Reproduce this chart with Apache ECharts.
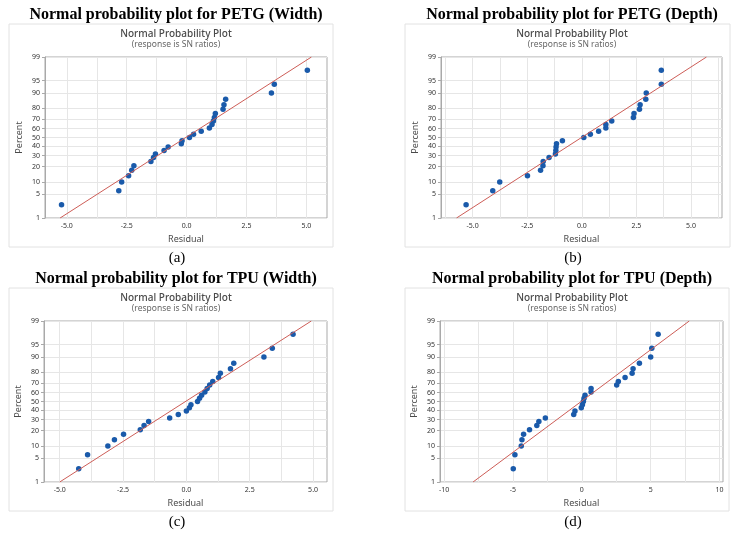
<!DOCTYPE html>
<html>
<head>
<meta charset="utf-8">
<title>Normal probability plots</title>
<script src="https://cdn.jsdelivr.net/npm/echarts@6/dist/echarts.min.js"></script>
<style>
  html, body { margin: 0; padding: 0; background: #fff; }
  #main { width: 747px; height: 536px; }
</style>
</head>
<body>
<div id="main"></div>
<script>
// percent (plotting position) of each of the 27 ranked residuals
var percents = [2.6, 6.2, 9.9, 13.5, 17.2, 20.8, 24.5, 28.1, 31.8, 35.4, 39.1, 42.7, 46.4, 50,
  53.6, 57.3, 60.9, 64.6, 68.2, 71.9, 75.5, 79.2, 82.8, 86.5, 90.1, 93.8, 97.4];

// residuals (sorted)
var petgWidth = [-5.22, -2.83, -2.71, -2.42, -2.29, -2.20, -1.49, -1.38, -1.30, -0.94, -0.77, -0.22, -0.19,
  0.12, 0.29, 0.61, 0.95, 1.06, 1.12, 1.16, 1.20, 1.52, 1.56, 1.63, 3.54, 3.66, 5.04];
var petgDepth = [-5.30, -4.08, -3.76, -2.49, -1.89, -1.78, -1.77, -1.50, -1.21, -1.19, -1.18, -1.16, -0.89,
  0.09, 0.39, 0.77, 1.10, 1.10, 1.37, 2.36, 2.39, 2.64, 2.67, 2.93, 2.95, 3.64, 3.64];
var tpuWidth = [-4.25, -3.90, -3.10, -2.84, -2.48, -1.82, -1.67, -1.49, -0.66, -0.32, 0.00, 0.12, 0.18,
  0.44, 0.52, 0.60, 0.73, 0.82, 0.92, 1.04, 1.27, 1.34, 1.74, 1.87, 3.06, 3.39, 4.21];
var tpuDepth = [-4.98, -4.86, -4.40, -4.35, -4.23, -3.80, -3.27, -3.12, -2.65, -0.59, -0.50, -0.04, 0.04,
  0.11, 0.16, 0.23, 0.67, 0.67, 2.53, 2.65, 3.14, 3.65, 3.72, 4.18, 5.00, 5.08, 5.54];

// fitted line: residual at 1 % and at 99 %
var fitPercents = [1, 99];
var fitPetgWidth = [-5.28, 5.21];
var fitPetgDepth = [-5.74, 5.71];
var fitTpuWidth = [-5.0, 4.93];
var fitTpuDepth = [-7.9, 7.8];

// axis ticks
var percentTicks = [1, 5, 10, 20, 30, 40, 50, 60, 70, 80, 90, 95, 99];
var residualTicks5 = [-5, -2.5, 0, 2.5, 5];
var residualTicks10 = [-10, -5, 0, 5, 10];

// inverse normal cdf (Acklam), used to put percents on the probability scale
function probit(p) {
  var a = [-3.969683028665376e+01, 2.209460984245205e+02, -2.759285104469687e+02,
    1.383577518672690e+02, -3.066479806614716e+01, 2.506628277459239e+00];
  var b = [-5.447609879822406e+01, 1.615858368580409e+02, -1.556989798598866e+02,
    6.680131188771972e+01, -1.328068155288572e+01];
  var c = [-7.784894002430293e-03, -3.223964580411365e-01, -2.400758277161838e+00,
    -2.549732539343734e+00, 4.374664141464968e+00, 2.938163982698783e+00];
  var d = [7.784695709041462e-03, 3.224671290700398e-01, 2.445134137142996e+00,
    3.754408661907416e+00];
  var q, r;
  if (p < 0.02425) {
    q = Math.sqrt(-2 * Math.log(p));
    return (((((c[0] * q + c[1]) * q + c[2]) * q + c[3]) * q + c[4]) * q + c[5]) /
      ((((d[0] * q + d[1]) * q + d[2]) * q + d[3]) * q + 1);
  }
  if (p > 1 - 0.02425) {
    q = Math.sqrt(-2 * Math.log(1 - p));
    return -(((((c[0] * q + c[1]) * q + c[2]) * q + c[3]) * q + c[4]) * q + c[5]) /
      ((((d[0] * q + d[1]) * q + d[2]) * q + d[3]) * q + 1);
  }
  q = p - 0.5;
  r = q * q;
  return (((((a[0] * r + a[1]) * r + a[2]) * r + a[3]) * r + a[4]) * r + a[5]) * q /
    (((((b[0] * r + b[1]) * r + b[2]) * r + b[3]) * r + b[4]) * r + 1);
}
function z(pct) { return probit(pct / 100); }

var zTicks = percentTicks.map(z);
function percentLabel(v) {
  var best = 0;
  for (var i = 1; i < zTicks.length; i++) {
    if (Math.abs(zTicks[i] - v) < Math.abs(zTicks[best] - v)) best = i;
  }
  return String(percentTicks[best]);
}

// panel layout
var panels = [
  { title: 'Normal probability plot for PETG (Width)', tag: '(a)', res: petgWidth, fit: fitPetgWidth,
    cx: 176, top: 0, box: [9, 24, 324, 223], grid: [45, 57, 282, 161], min: -5.91, max: 5.86,
    labels: residualTicks5, lines: [-5, -3.75, -2.5, -1.25, 0, 1.25, 2.5, 3.75, 5], dec: 1 },
  { title: 'Normal probability plot for PETG (Depth)', tag: '(b)', res: petgDepth, fit: fitPetgDepth,
    cx: 572, top: 0, box: [405, 24, 325, 223], grid: [441, 57, 281, 161], min: -6.45, max: 6.42,
    labels: residualTicks5, lines: [-6.25, -5, -3.75, -2.5, -1.25, 0, 1.25, 2.5, 3.75, 5, 6.25], dec: 1 },
  { title: 'Normal probability plot for TPU (Width)', tag: '(c)', res: tpuWidth, fit: fitTpuWidth,
    cx: 176, top: 264, box: [9, 288, 324, 223], grid: [44, 321, 283, 161], min: -5.62, max: 5.55,
    labels: residualTicks5, lines: [-5, -3.75, -2.5, -1.25, 0, 1.25, 2.5, 3.75, 5], dec: 1 },
  { title: 'Normal probability plot for TPU (Depth)', tag: '(d)', res: tpuDepth, fit: fitTpuDepth,
    cx: 572, top: 264, box: [405, 288, 324, 223], grid: [440, 321, 283, 161], min: -10.3, max: 10.25,
    labels: residualTicks10, lines: [-10, -7.5, -5, -2.5, 0, 2.5, 5, 7.5, 10], dec: 0 }
];

var grids = [], xAxes = [], yAxes = [], series = [], graphics = [];

panels.forEach(function (p, i) {
  var g = p.grid;
  // outer Minitab box
  graphics.push({
    type: 'rect', shape: { x: p.box[0], y: p.box[1], width: p.box[2], height: p.box[3] },
    style: { fill: '#fff', stroke: '#e2e2e2', lineWidth: 1 }, z: -1
  });
  graphics.push({
    type: 'text', x: p.cx, y: p.top + 15,
    style: { text: p.title, font: 'bold 16px "Liberation Serif"', fill: '#000', align: 'center', verticalAlign: 'middle' }
  });
  graphics.push({
    type: 'text', x: p.cx, y: p.box[1] + 10.5,
    style: { text: 'Normal Probability Plot', font: '500 10px "Noto Sans"', fill: '#4a4a4a', align: 'center', verticalAlign: 'middle' }
  });
  graphics.push({
    type: 'text', x: p.cx, y: p.box[1] + 20.5,
    style: { text: '(response is SN ratios)', font: '8.5px "Noto Sans"', fill: '#666', align: 'center', verticalAlign: 'middle' }
  });
  graphics.push({
    type: 'text', x: p.cx + 1, y: p.box[1] + p.box[3] + 11,
    style: { text: p.tag, font: '15px "Liberation Serif"', fill: '#000', align: 'center', verticalAlign: 'middle' }
  });

  grids.push({
    left: g[0], top: g[1], width: g[2], height: g[3],
    show: true, borderColor: '#a9a9a9', borderWidth: 1, backgroundColor: '#fff'
  });
  xAxes.push({
    gridIndex: i, type: 'value', min: p.min, max: p.max,
    name: 'Residual', nameLocation: 'middle', nameGap: 17,
    nameTextStyle: { fontFamily: 'Noto Sans', fontSize: 9, color: '#4a4a4a' },
    axisLine: { show: false },
    axisTick: { show: false, customValues: p.lines },
    axisLabel: {
      customValues: p.labels, fontFamily: 'Noto Sans', fontSize: 7, color: '#333', margin: 4,
      formatter: function (v) { return v.toFixed(p.dec); }
    },
    splitLine: { show: true, lineStyle: { color: '#e6e6e6', width: 1 } }
  });
  yAxes.push({
    gridIndex: i, type: 'value', min: z(1), max: z(99),
    name: 'Percent', nameLocation: 'middle', nameGap: 21, nameRotate: 90,
    nameTextStyle: { fontFamily: 'Noto Sans', fontSize: 9, color: '#4a4a4a' },
    axisLine: { show: true, onZero: false, lineStyle: { color: '#a9a9a9', width: 1 } },
    axisTick: { show: true, length: 3, customValues: zTicks, lineStyle: { color: '#a9a9a9' } },
    axisLabel: {
      customValues: zTicks, fontFamily: 'Noto Sans', fontSize: 7, color: '#333', margin: 5,
      formatter: percentLabel
    },
    splitLine: { show: true, lineStyle: { color: '#e6e6e6', width: 1 } }
  });

  series.push({
    type: 'line', xAxisIndex: i, yAxisIndex: i, silent: true, symbol: 'none',
    lineStyle: { color: '#cd5d57', width: 1 },
    data: fitPercents.map(function (pc, k) { return [p.fit[k], z(pc)]; })
  });
  series.push({
    type: 'scatter', xAxisIndex: i, yAxisIndex: i, symbolSize: 5.5,
    itemStyle: { color: '#1a5aaa', opacity: 1 },
    data: p.res.map(function (r, k) { return [r, z(percents[k])]; })
  });
});

var chart = echarts.init(document.getElementById('main'));
chart.setOption({
  animation: false,
  backgroundColor: '#fff',
  grid: grids,
  xAxis: xAxes,
  yAxis: yAxes,
  series: series,
  graphic: { elements: graphics }
});
</script>
</body>
</html>
